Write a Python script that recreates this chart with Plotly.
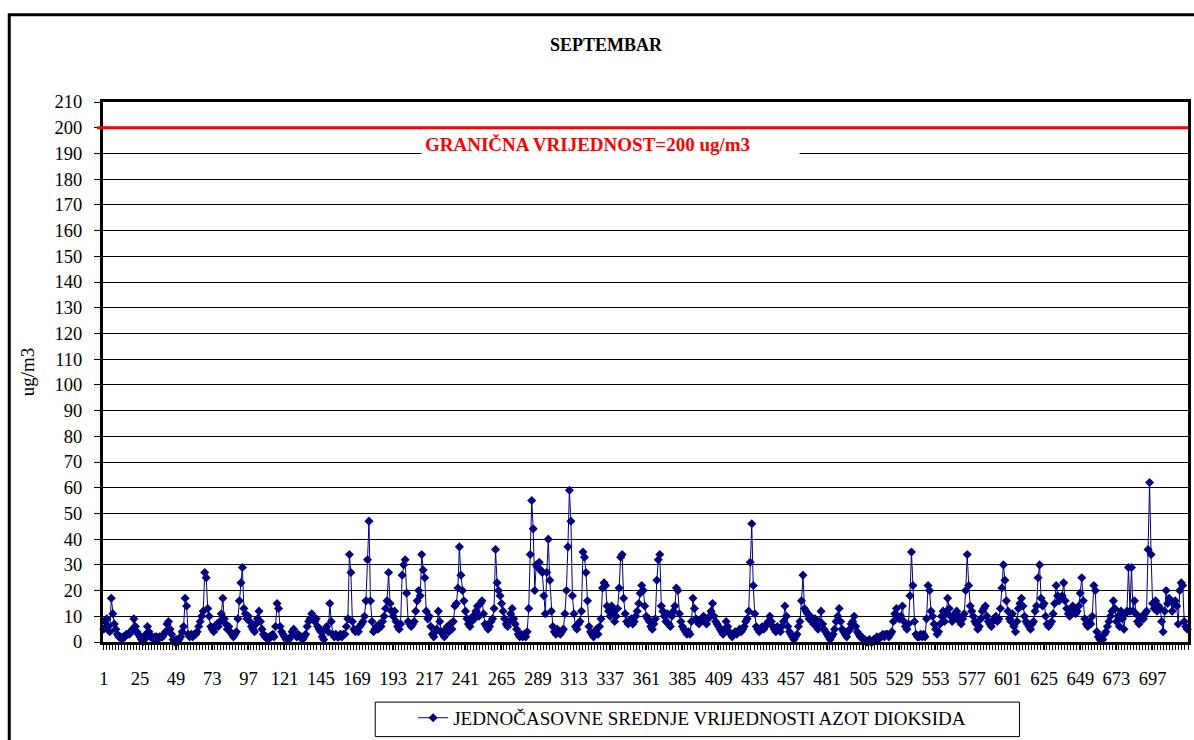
import plotly.graph_objects as go

# ---------------- data ----------------
TITLE = "SEPTEMBAR"
Y_TITLE = "ug/m3"
LEGEND_NAME = "JEDNOČASOVNE SREDNJE VRIJEDNOSTI AZOT DIOKSIDA"
LIMIT = 200
LIMIT_LABEL = "GRANIČNA VRIJEDNOST=200 ug/m3"
Y_TICKS = list(range(0, 211, 10))
X_TICK_START = 1
X_TICK_STEP = 24

# hourly NO2 values (ug/m3), one list per day of September
day01 = [5, 8, 9, 6, 4, 17, 11, 7, 5, 3, 2, 2, 1, 2, 2, 3, 3, 3, 4, 5, 9, 6, 4, 3]
day02 = [2, 1, 0, 1, 3, 6, 4, 2, 2, 1, 2, 2, 1, 2, 2, 2, 3, 4, 7, 8, 5, 3, 1, 0]
day03 = [1, 0, 1, 2, 4, 6, 17, 14, 3, 2, 3, 2, 3, 3, 4, 6, 8, 10, 12, 27, 25, 13, 10, 6]
day04 = [5, 4, 6, 7, 6, 8, 11, 17, 9, 7, 5, 6, 4, 3, 2, 3, 4, 9, 16, 23, 29, 13, 11, 9]
day05 = [10, 8, 6, 5, 4, 7, 9, 12, 8, 5, 3, 2, 2, 1, 2, 2, 3, 2, 6, 15, 13, 6, 4, 3]
day06 = [2, 1, 1, 1, 2, 4, 5, 3, 2, 3, 2, 2, 1, 2, 3, 6, 8, 9, 11, 9, 8, 9, 6, 5]
day07 = [4, 2, 1, 5, 6, 4, 15, 8, 3, 2, 3, 2, 2, 3, 2, 3, 3, 6, 9, 34, 27, 8, 5, 4]
day08 = [5, 4, 6, 7, 8, 10, 16, 32, 47, 16, 8, 4, 5, 6, 5, 7, 6, 8, 10, 13, 16, 27, 15, 12]
day09 = [10, 12, 8, 6, 5, 7, 26, 30, 32, 19, 8, 7, 6, 7, 8, 12, 16, 20, 18, 34, 28, 25, 12, 9]
day10 = [10, 6, 3, 2, 4, 5, 12, 8, 4, 3, 2, 5, 6, 4, 7, 5, 8, 14, 15, 21, 37, 26, 20, 16]
day11 = [12, 9, 7, 6, 8, 10, 9, 12, 14, 10, 15, 16, 11, 7, 6, 5, 6, 8, 9, 13, 36, 23, 20, 18]
day12 = [15, 12, 9, 7, 6, 8, 11, 13, 9, 7, 5, 3, 2, 3, 2, 3, 2, 4, 13, 34, 55, 44, 20, 30]
day13 = [29, 31, 28, 27, 18, 11, 27, 40, 24, 12, 6, 4, 3, 5, 4, 3, 4, 5, 11, 20, 37, 59, 47, 18]
day14 = [11, 6, 5, 7, 8, 12, 35, 33, 27, 16, 6, 4, 3, 2, 4, 5, 3, 6, 9, 21, 23, 22, 14, 12]
day15 = [10, 14, 12, 8, 10, 13, 21, 33, 34, 17, 11, 8, 7, 8, 9, 7, 8, 10, 12, 15, 19, 22, 20, 14]
day16 = [10, 9, 8, 6, 5, 7, 9, 24, 32, 34, 14, 12, 10, 8, 11, 7, 6, 10, 12, 14, 21, 20, 11, 8]
day17 = [6, 5, 4, 3, 4, 3, 8, 17, 13, 9, 8, 7, 8, 9, 10, 8, 7, 9, 10, 12, 15, 10, 8, 7]
day18 = [6, 5, 4, 3, 5, 8, 6, 4, 3, 2, 3, 4, 3, 4, 5, 4, 5, 6, 8, 9, 12, 31, 46, 22]
day19 = [11, 6, 5, 4, 5, 6, 5, 6, 7, 8, 10, 8, 6, 5, 4, 6, 5, 4, 6, 8, 14, 10, 6, 4]
day20 = [3, 2, 1, 2, 3, 6, 8, 16, 26, 13, 12, 11, 9, 10, 8, 7, 9, 6, 5, 8, 12, 7, 5, 4]
day21 = [3, 2, 1, 2, 3, 5, 8, 10, 13, 8, 5, 4, 3, 2, 4, 5, 7, 8, 10, 6, 4, 3, 2, 2]
day22 = [1, 1, 0, 0, 1, 0, 0, 1, 1, 2, 1, 2, 2, 3, 2, 3, 3, 2, 3, 4, 8, 11, 13, 10]
day23 = [9, 10, 14, 8, 6, 5, 7, 18, 35, 22, 8, 3, 2, 2, 3, 2, 3, 2, 9, 22, 20, 12, 10, 7]
day24 = [5, 3, 4, 7, 10, 12, 8, 11, 17, 13, 10, 8, 9, 11, 12, 10, 8, 7, 9, 11, 20, 34, 22, 14]
day25 = [12, 10, 8, 7, 5, 6, 9, 12, 13, 14, 10, 8, 7, 6, 8, 9, 10, 8, 9, 13, 21, 30, 24, 16]
day26 = [12, 9, 8, 11, 6, 4, 8, 13, 15, 17, 14, 10, 8, 7, 6, 5, 7, 8, 12, 14, 25, 30, 17, 14]
day27 = [15, 10, 7, 6, 7, 8, 11, 15, 22, 18, 16, 17, 18, 23, 16, 13, 11, 10, 12, 14, 13, 11, 12, 14]
day28 = [19, 25, 16, 9, 7, 6, 8, 7, 10, 22, 20, 4, 2, 1, 2, 1, 3, 4, 6, 8, 10, 12, 16, 13]
day29 = [8, 10, 6, 12, 9, 5, 11, 12, 29, 12, 29, 12, 16, 11, 8, 7, 9, 10, 9, 11, 12, 36, 62, 34]
day30 = [15, 13, 16, 12, 14, 13, 8, 4, 12, 20, 15, 17, 16, 12, 15, 16, 14, 7, 20, 23, 22, 8, 6, 5]

days = [day01, day02, day03, day04, day05, day06, day07, day08, day09, day10,
        day11, day12, day13, day14, day15, day16, day17, day18, day19, day20,
        day21, day22, day23, day24, day25, day26, day27, day28, day29, day30]
values = [v for d in days for v in d]
hours = list(range(1, len(values) + 1))

# ---------------- figure ----------------
FONT = "Times New Roman, Liberation Serif, serif"
NAVY = "#000080"
W, H = 1194, 740
ML, MR, MT, MB = 103, 3, 102, 90
PW = W - ML - MR
PH = H - MT - MB


def px_x(p):
    return (p - ML) / PW


def px_y(p):
    return (H - MB - p) / PH


fig = go.Figure()
fig.add_trace(go.Scatter(
    x=hours, y=values, mode="lines+markers", name=LEGEND_NAME,
    line=dict(color=NAVY, width=1),
    marker=dict(symbol="diamond", size=7, color=NAVY),
    cliponaxis=False,
))

fig.update_layout(
    width=W, height=H,
    margin=dict(l=ML, r=MR, t=MT, b=MB, pad=0),
    paper_bgcolor="white", plot_bgcolor="white",
    font=dict(family=FONT, color="black", size=18),
    title=dict(text="<b>" + TITLE + "</b>", x=606 / W, y=1 - 45 / H,
               xref="container", yref="container",
               xanchor="center", yanchor="middle",
               font=dict(family=FONT, size=18, color="black")),
    showlegend=True,
    legend=dict(x=px_x(414), y=px_y(727), xanchor="left", yanchor="middle",
                bgcolor="rgba(0,0,0,0)", borderwidth=0,
                font=dict(family=FONT, size=19, color="black")),
)

fig.update_xaxes(
    range=[0.5, len(values) + 0.5],
    tickmode="linear", tick0=X_TICK_START, dtick=X_TICK_STEP,
    ticks="outside", ticklen=5, tickwidth=1, tickcolor="black",
    minor=dict(ticks="outside", ticklen=5, tickwidth=1, tickcolor="black",
               tick0=0.5, dtick=2, showgrid=False),
    showgrid=False, zeroline=False,
    showline=True, linewidth=3, linecolor="black", mirror=True,
    tickfont=dict(family=FONT, size=18.5, color="black"),
    ticklabelstandoff=13,
)
fig.update_yaxes(
    range=[0, 210], tickmode="array", tickvals=Y_TICKS,
    ticks="outside", ticklen=6, tickwidth=1, tickcolor="black",
    showgrid=True, gridcolor="black", gridwidth=1,
    zeroline=False,
    showline=True, linewidth=3, linecolor="black", mirror=True,
    tickfont=dict(family=FONT, size=18.5, color="black"),
    ticklabelstandoff=8,
)

# limit line
fig.add_shape(type="line", xref="paper", yref="y",
              x0=px_x(97), x1=1, y0=LIMIT, y1=LIMIT,
              line=dict(color="#ff0000", width=3))

# limit label
fig.add_annotation(
    text="<b>" + LIMIT_LABEL + "</b>", xref="paper", yref="paper",
    x=px_x(612), y=px_y(145), xanchor="center", yanchor="middle",
    showarrow=False, bgcolor="white", width=371, align="left", borderpad=3,
    font=dict(family=FONT, size=19, color="#ff0000"),
)

# y-axis title
fig.add_annotation(
    text=Y_TITLE, xref="paper", yref="paper", x=px_x(27), y=0.5,
    xanchor="center", yanchor="middle", textangle=-90, showarrow=False,
    font=dict(family=FONT, size=19, color="black"),
)

# legend frame
fig.add_shape(type="rect", xref="paper", yref="paper",
              x0=px_x(376), x1=px_x(1022), y0=px_y(746), y1=px_y(711),
              line=dict(color="black", width=1), fillcolor="rgba(0,0,0,0)")

# outer chart border
fig.add_shape(type="rect", xref="paper", yref="paper",
              x0=px_x(9), x1=px_x(1210), y0=px_y(760), y1=px_y(13.5),
              line=dict(color="black", width=3), fillcolor="rgba(0,0,0,0)")

fig.write_html("out.html", config={"displayModeBar": False},
               post_script="document.body.style.margin='0';")
